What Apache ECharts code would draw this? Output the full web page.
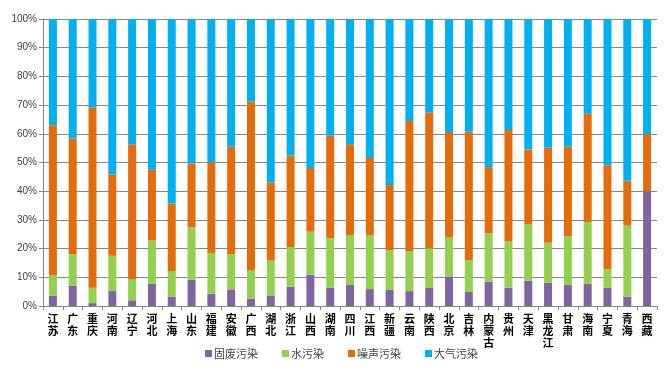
<!DOCTYPE html>
<html>
<head>
<meta charset="utf-8">
<script src="https://cdn.jsdelivr.net/npm/echarts@6/dist/echarts.min.js"></script>
<style>
  html, body { margin: 0; padding: 0; background: #fff; }
  #chart { width: 672px; height: 377px; }
</style>
</head>
<body>
<div id="chart"></div>
<script>
var provinces = ['江苏', '广东', '重庆', '河南', '辽宁', '河北', '上海', '山东', '福建', '安徽',
  '广西', '湖北', '浙江', '山西', '湖南', '四川', '江西', '新疆', '云南', '陕西',
  '北京', '吉林', '内蒙古', '贵州', '天津', '黑龙江', '甘肃', '海南', '宁夏', '青海', '西藏'];

var solidWaste = [3.6, 7.1, 1.0, 5.2, 2.0, 7.7, 3.3, 9.1, 4.3, 5.8,
  2.6, 3.5, 6.7, 10.9, 6.4, 7.4, 5.9, 5.6, 5.2, 6.3,
  10.3, 4.9, 8.5, 6.4, 8.8, 8.1, 7.3, 7.7, 6.4, 3.3, 40.0];
var water = [7.0, 11.0, 5.4, 12.3, 7.4, 15.1, 8.9, 18.3, 14.2, 12.3,
  9.9, 12.3, 13.9, 15.0, 17.2, 17.3, 18.8, 13.8, 14.0, 13.8,
  13.6, 11.1, 16.8, 16.2, 19.8, 13.9, 17.1, 21.6, 6.4, 24.7, 0];
var noise = [52.4, 40.3, 62.8, 28.3, 47.0, 24.7, 23.5, 22.3, 31.6, 37.4,
  58.7, 27.3, 31.8, 22.2, 35.7, 31.7, 26.9, 22.8, 45.3, 47.4,
  36.7, 44.7, 23.1, 38.7, 25.9, 33.1, 31.1, 37.7, 36.2, 15.6, 19.9];
var air = [37.0, 41.6, 30.8, 54.2, 43.6, 52.5, 64.3, 50.3, 49.9, 44.5,
  28.8, 56.9, 47.6, 51.9, 40.7, 43.6, 48.4, 57.8, 35.5, 32.5,
  39.4, 39.3, 51.6, 38.7, 45.5, 44.9, 44.5, 33.0, 51.0, 56.4, 40.1];

var seriesNames = ['固废污染', '水污染', '噪声污染', '大气污染'];
var colors = ['#8064a2', '#92d050', '#e46c0a', '#00b0f0'];
var yTicks = [0, 10, 20, 30, 40, 50, 60, 70, 80, 90, 100];

var chart = echarts.init(document.getElementById('chart'));

function makeSeries(name, data) {
  return {
    name: name,
    type: 'bar',
    stack: 'total',
    barWidth: 8,
    data: data
  };
}

var option = {
  animation: false,
  color: colors,
  grid: { left: 43, right: 15, top: 19, bottom: 71 },
  legend: {
    bottom: 13,
    left: 200,
    itemWidth: 7,
    itemHeight: 7,
    itemGap: 24,
    icon: 'rect',
    textStyle: { fontFamily: 'Noto Sans CJK SC', fontSize: 11, color: '#404040', padding: [0, 0, 0, -3] },
    data: seriesNames
  },
  xAxis: {
    type: 'category',
    data: provinces,
    axisLine: { lineStyle: { color: '#868686' } },
    axisTick: { show: true, length: 4, lineStyle: { color: '#868686' } },
    axisLabel: {
      interval: 0,
      margin: 7,
      fontFamily: 'Noto Sans CJK SC',
      fontWeight: 'bold',
      fontSize: 11,
      lineHeight: 12,
      color: '#000',
      formatter: function (v) { return v.split('').join('\n'); }
    }
  },
  yAxis: {
    type: 'value',
    min: yTicks[0],
    max: yTicks[yTicks.length - 1],
    interval: 10,
    axisLine: { show: true, lineStyle: { color: '#868686' } },
    axisTick: { show: true, length: 4, inside: false, lineStyle: { color: '#868686' } },
    splitLine: { lineStyle: { color: '#868686' } },
    axisLabel: {
      margin: 6,
      fontFamily: 'Liberation Sans',
      fontSize: 10,
      color: '#404040',
      formatter: '{value}%'
    }
  },
  series: [
    makeSeries(seriesNames[0], solidWaste),
    makeSeries(seriesNames[1], water),
    makeSeries(seriesNames[2], noise),
    makeSeries(seriesNames[3], air)
  ]
};

chart.setOption(option);
</script>
</body>
</html>
